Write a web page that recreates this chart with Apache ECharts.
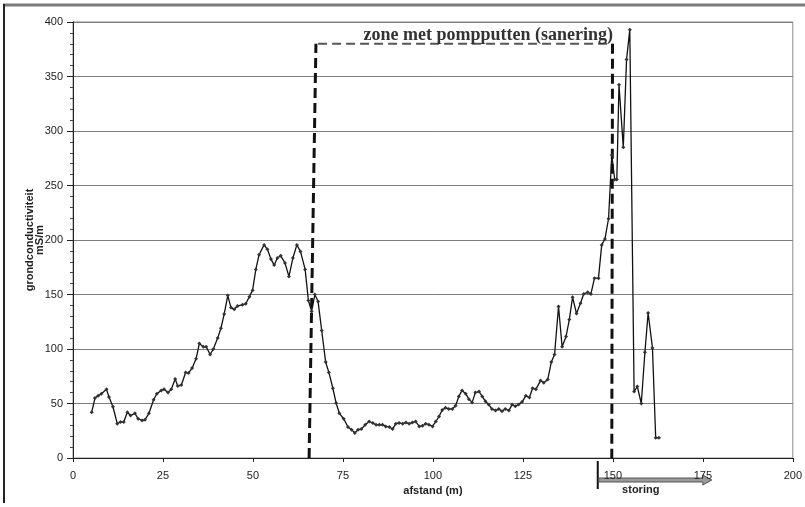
<!DOCTYPE html>
<html>
<head>
<meta charset="utf-8">
<title>grondconductiviteit</title>
<script src="https://cdn.jsdelivr.net/npm/echarts@6/dist/echarts.min.js"></script>
<style>
  html, body { margin: 0; padding: 0; background: #fff; }
  #chart { width: 805px; height: 507px; }
</style>
</head>
<body>
<div id="chart"></div>
<script>
// Distance along the profile (m)
const afstand = [
  5.2, 6.1, 7.0, 7.9, 9.3, 10.0, 11.1, 12.3, 13.2, 14.1,
  15.1, 16.0, 17.2, 18.1, 19.2, 20.0, 21.1, 22.4, 23.3, 24.5,
  25.3, 26.4, 27.3, 28.4, 29.1, 30.1, 31.3, 32.1, 33.1, 34.2,
  35.1, 36.2, 37.0, 38.1, 39.0, 40.2, 41.1, 42.0, 43.0, 43.9,
  44.8, 45.7, 47.1, 48.0, 49.0, 49.9, 50.8, 51.7, 53.1, 54.0,
  55.0, 55.9, 56.8, 57.7, 58.9, 60.0, 61.1, 62.2, 63.2, 64.5,
  65.4, 66.3, 67.2, 68.1, 69.1, 70.2, 71.1, 72.2, 73.1, 74.0,
  75.2, 76.4, 77.4, 78.3, 79.2, 80.1, 81.2, 82.3, 83.3, 84.2,
  85.1, 86.0, 86.9, 87.9, 88.8, 89.7, 90.6, 91.6, 92.5, 93.4,
  94.3, 95.2, 96.2, 97.1, 98.0, 98.9, 99.9, 100.8, 101.7, 102.6,
  103.5, 104.4, 105.4, 106.3, 107.2, 108.1, 109.1, 110.0, 110.9, 111.8,
  112.8, 113.7, 114.6, 115.5, 116.4, 117.4, 118.3, 119.2, 120.1, 121.1,
  122.0, 122.9, 123.8, 124.8, 125.8, 126.8, 127.7, 128.6, 129.9, 130.8,
  131.9, 132.9, 133.8, 134.9, 135.9, 137.0, 137.9, 138.8, 139.9, 141.0,
  141.9, 143.0, 143.9, 144.9, 146.0, 146.9, 147.8, 148.8, 149.7, 150.5,
  151.1, 151.7, 152.9, 153.8, 154.7, 155.9, 156.8, 157.9, 158.9, 159.8,
  161.0, 161.9, 162.8
];

// Ground conductivity (mS/m)
const geleiding = [
  42, 55, 57, 59, 63, 56, 47, 31.5, 33, 33,
  42, 39, 41, 36, 34.5, 35, 41, 53.5, 59, 62,
  63, 60, 63, 72.5, 66, 67, 78.5, 78, 82.5, 91,
  105, 102, 102, 95, 100, 110, 119, 132, 149, 138,
  136.5, 139.5, 140.5, 141.5, 148, 154, 173, 186.5, 195.5, 191.5,
  182.5, 177, 183.5, 185.5, 179, 166.5, 183.5, 195.5, 189.5, 173,
  144.5, 134.5, 150, 143.5, 117, 88, 78.5, 64, 50.5, 41,
  36, 28.5, 26, 23, 26, 26.5, 30.5, 33.5, 32, 30.5,
  30.5, 30.5, 29, 28.5, 26.5, 31.5, 32, 31.5, 32.5, 31.5,
  32.5, 33.5, 29, 29.5, 31.5, 30.5, 29, 33.5, 38, 44,
  46, 45, 45, 48, 56.5, 62, 59, 54, 51, 60,
  61, 56.5, 52, 49, 45, 43.5, 45, 43, 45, 43.5,
  49, 47.5, 49, 51.5, 57, 55.5, 64, 63, 71, 69,
  72, 88, 95, 139, 102, 111.5, 127, 147.5, 132.5, 142,
  150.5, 152, 150.5, 165, 165, 195.5, 201, 219.5, 278, 255.5,
  255.5, 342.5, 285, 365.5, 393, 61, 65.5, 50, 97, 133,
  101, 18.5, 18.5
];

// Axis ranges, ticks and titles
const xTicks = { min: 0, max: 200, step: 25 };
const yTicks = { min: 0, max: 400, step: 50 };
const xTitle = 'afstand (m)';
const yTitle = 'grondconductiviteit\nmS/m';

// Zone with pumping wells: boundary distances (m) and height (mS/m)
const zoneLeftBottom = 65.6;
const zoneLeftTop = 67.5;
const zoneRightBottom = 149.7;
const zoneRightTop = 149.9;
const zoneTop = 380;
const zoneLabel = 'zone met pompputten (sanering)';

// Disturbance interval (m)
const storingFrom = 145.8;
const storingTo = 177.5;
const storingLabel = 'storing';

const profile = afstand.map((d, i) => [d, geleiding[i]]);

const chart = echarts.init(document.getElementById('chart'), null, { renderer: 'canvas' });

const labelFont = { fontFamily: '"Liberation Sans", Arial, sans-serif', fontSize: 11, color: '#222' };

chart.setOption({
  animation: false,
  backgroundColor: '#ffffff',
  grid: {
    left: 73, top: 22, right: 9, bottom: 49,
    show: true, borderColor: '#8a8a8a', borderWidth: 1, backgroundColor: 'transparent'
  },
  xAxis: {
    type: 'value',
    min: xTicks.min, max: xTicks.max, interval: xTicks.step,
    name: xTitle,
    nameLocation: 'middle',
    nameGap: 27,
    nameTextStyle: { fontFamily: '"Liberation Sans", Arial, sans-serif', fontSize: 11, fontWeight: 'bold', color: '#222' },
    axisLine: { lineStyle: { color: '#222', width: 1 } },
    axisTick: { show: true, length: 4, lineStyle: { color: '#222' } },
    axisLabel: Object.assign({ margin: 12 }, labelFont),
    splitLine: { show: false }
  },
  yAxis: {
    type: 'value',
    min: yTicks.min, max: yTicks.max, interval: yTicks.step,
    axisLine: { show: true, lineStyle: { color: '#222', width: 1 } },
    axisTick: { show: true, length: 6, lineStyle: { color: '#222' } },
    minorTick: { show: true, splitNumber: 5, length: 3, lineStyle: { color: '#444' } },
    axisLabel: Object.assign({ margin: 10 }, labelFont),
    splitLine: { show: true, lineStyle: { color: '#7d7d7d', width: 1 } }
  },
  series: [
    {
      name: 'zone-verticals',
      type: 'line',
      silent: true,
      symbol: 'none',
      connectNulls: false,
      data: [[zoneLeftBottom, 0], [zoneLeftTop, zoneTop], null, [zoneRightTop, zoneTop], [zoneRightBottom, 0]],
      lineStyle: { color: '#111', width: 3, type: [10, 5] },
      z: 3
    },
    {
      name: 'zone-top',
      type: 'line',
      silent: true,
      symbol: 'none',
      data: [[zoneLeftTop + 0.6, zoneTop], [zoneRightTop, zoneTop]],
      lineStyle: { color: '#555', width: 2, type: [9, 5] },
      z: 3
    },
    {
      name: 'grondconductiviteit',
      type: 'line',
      data: profile,
      symbol: 'diamond',
      symbolSize: 4,
      showSymbol: true,
      itemStyle: { color: '#333' },
      lineStyle: { color: '#111', width: 1.3 },
      z: 4
    }
  ]
});

// Annotations placed from data coordinates
function drawAnnotations() {
  const p = (x, y) => chart.convertToPixel({ gridIndex: 0 }, [x, y]);
  const base = p(0, 0)[1];
  const top = p(0, yTicks.max)[1];
  const left = p(0, 0)[0];
  const sFrom = p(storingFrom, 0)[0];
  const sTo = p(storingTo, 0)[0];
  const zoneMid = (p(zoneLeftTop, 0)[0] + p(zoneRightTop, 0)[0]) / 2 + 24;
  const zoneY = p(0, zoneTop)[1];
  const ay = base + 22;

  chart.setOption({
    graphic: [
      // outer frame
      { type: 'line', silent: true, shape: { x1: 3, y1: 5, x2: 805, y2: 5 }, style: { stroke: '#7a7a7a', lineWidth: 3 } },
      { type: 'line', silent: true, shape: { x1: 4, y1: 4, x2: 4, y2: 503 }, style: { stroke: '#222', lineWidth: 2 } },
      // vertical axis title
      {
        type: 'text', silent: true,
        x: left - 38, y: (base + top) / 2,
        rotation: Math.PI / 2,
        style: {
          text: yTitle,
          font: 'bold 11px "Liberation Sans", Arial, sans-serif',
          lineHeight: 10,
          fill: '#222', align: 'center', verticalAlign: 'middle'
        }
      },
      // zone label
      {
        type: 'text', silent: true, z: 10,
        x: zoneMid, y: zoneY - 8,
        style: {
          text: zoneLabel,
          font: 'bold 18px "Liberation Serif", "Times New Roman", serif',
          fill: '#333', align: 'center', verticalAlign: 'middle'
        }
      },
      // disturbance marker
      { type: 'line', silent: true, shape: { x1: sFrom, y1: base + 3, x2: sFrom, y2: base + 31 }, style: { stroke: '#111', lineWidth: 2 } },
      {
        type: 'polygon', silent: true,
        shape: { points: [
          [sFrom + 1, ay - 2], [sTo - 9, ay - 2], [sTo - 9, ay - 5], [sTo, ay],
          [sTo - 9, ay + 5], [sTo - 9, ay + 2], [sFrom + 1, ay + 2]
        ] },
        style: { fill: '#9a9a9a', stroke: '#555', lineWidth: 1 }
      },
      {
        type: 'text', silent: true,
        x: sFrom + 43, y: base + 32,
        style: {
          text: storingLabel,
          font: 'bold 11px "Liberation Sans", Arial, sans-serif',
          fill: '#222', align: 'center', verticalAlign: 'middle'
        }
      }
    ]
  });
}
drawAnnotations();
</script>
</body>
</html>
